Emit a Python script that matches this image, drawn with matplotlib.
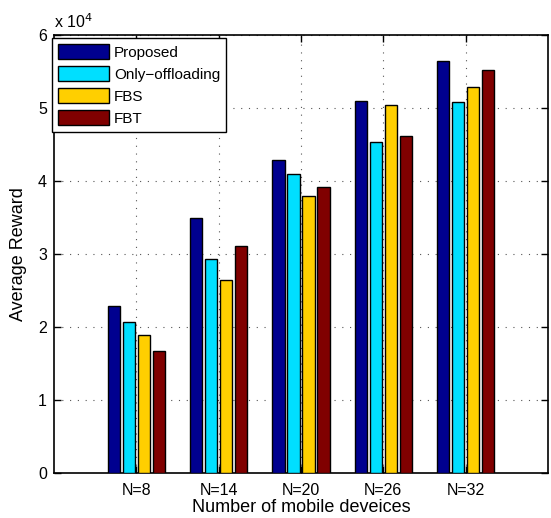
import matplotlib
matplotlib.use("Agg")
import matplotlib.pyplot as plt
import numpy as np
from matplotlib.ticker import FuncFormatter

categories = ["N=8", "N=14", "N=20", "N=26", "N=32"]
series_names = ["Proposed", "Only\u2212offloading", "FBS", "FBT"]
proposed = [22900, 34900, 42900, 51000, 56500]
only_offloading = [20700, 29300, 41000, 45300, 50800]
fbs = [18900, 26400, 37900, 50400, 52900]
fbt = [16700, 31100, 39200, 46200, 55200]
y_ticks = [0, 1, 2, 3, 4, 5, 6]

colors = ["#00008F", "#00DFFF", "#FFCF00", "#800000"]

plt.rcParams["font.family"] = ["Liberation Sans", "DejaVu Sans"]

fig = plt.figure(figsize=(5.51, 5.18), dpi=100)
ax = fig.add_axes([0.098, 0.0869, 0.8966, 0.8455])

x = np.arange(1, len(categories) + 1)
pitch = 0.182
width = 0.15
all_series = [proposed, only_offloading, fbs, fbt]
for i, (vals, name, c) in enumerate(zip(all_series, series_names, colors)):
    ax.bar(x + (i - 1.5) * pitch, vals, width=width, color=c, edgecolor="black",
           linewidth=1.0, label=name, zorder=3)

ax.set_xlim(0, 6)
ax.set_ylim(0, 60000)
ax.set_xticks(x)
ax.set_xticklabels(categories)
ax.set_yticks([t * 1e4 for t in y_ticks])
ax.yaxis.set_major_formatter(FuncFormatter(lambda v, p: f"{v/1e4:g}"))
ax.tick_params(axis="both", direction="in", length=5, width=1, labelsize=11.5,
               top=True, right=True)
ax.tick_params(axis="x", pad=7)
ax.tick_params(axis="y", pad=5)
ax.grid(True, linestyle=(0, (1, 6)), color="#555555", linewidth=0.8, zorder=0)
for s in ax.spines.values():
    s.set_linewidth(1.2)

ax.set_xlabel("Number of mobile deveices", fontsize=13, labelpad=1)
ax.set_ylabel("Average Reward", fontsize=13, labelpad=8)
ax.text(0.0, 1.01, "x 10$^{4}$", transform=ax.transAxes, fontsize=11.5,
        ha="left", va="bottom")

leg = ax.legend(loc="upper left", bbox_to_anchor=(-0.004, 0.993), borderaxespad=0,
                fontsize=11, handlelength=3.3, handleheight=1.15, labelspacing=0.4,
                handletextpad=0.35, borderpad=0.4, fancybox=False, framealpha=1,
                edgecolor="black")
leg.get_frame().set_linewidth(1.0)
leg.set_zorder(5)

fig.savefig("out.png", dpi=100)
